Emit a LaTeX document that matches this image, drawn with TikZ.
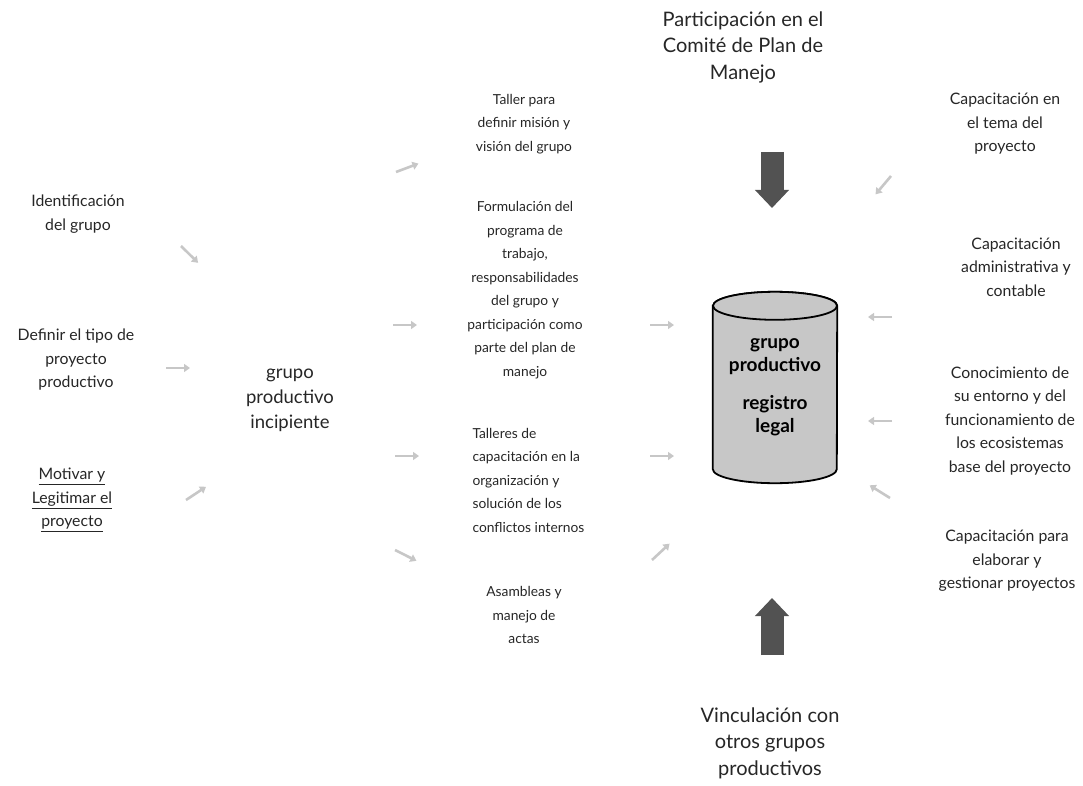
\documentclass[tikz,border=0pt]{standalone}
\usepackage{fontspec}
\setmainfont{Lato}
\usetikzlibrary{arrows.meta,shapes,positioning,calc,backgrounds}

\begin{document}
\begin{tikzpicture}[x=1pt,y=-1pt,
	txt/.style={align=center,text=black!85,font=\fontsize{13.8}{23.5}\selectfont},
	lado/.style={align=center,text=black!85,font=\fontsize{15.8}{23.5}\selectfont},
	grande/.style={align=center,text=black!85,font=\fontsize{20}{26.5}\selectfont},
	flecha/.style={draw=black!22,line width=2.6pt,-{Triangle[width=8pt,length=6pt]}},
	grueso/.style={draw=black!68,line width=23pt,-{Triangle[width=33pt,length=18pt]}},
	cuerpo/.style={draw=black,line width=1.8pt,fill=black!22}]
		\useasboundingbox (0,0) rectangle (1083,786);

		\node[grande] (particip) at (743,47) {Participación en el\\Comité de Plan de\\Manejo};
		\node[grande] (vincul) at (770,743) {Vinculación con\\otros grupos\\productivos};
		\node[grande,font=\fontsize{18.5}{25}\selectfont] (incip) at (290,400) {grupo\\productivo\\incipiente};

		\node[lado] (ident) at (78,214) {Identificación\\del grupo};
		\node[lado] (definir) at (76,360) {Definir el tipo de\\proyecto\\productivo};
		\node[lado] (motivar) at (72,500) {\underline{Motivar y}\\\underline{Legitimar el}\\\underline{proyecto}};

		\node[txt] (taller) at (524,124) {Taller para\\definir misión y\\visión del grupo};
		\node[txt] (formul) at (525,290) {Formulación del\\programa de\\trabajo,\\responsabilidades\\del grupo y\\participación como\\parte del plan de\\manejo};
		\node[txt,align=left,anchor=west] (talleres) at (469,480) {Talleres de\\capacitación en la\\organización y\\solución de los\\conflictos internos};
		\node[txt] (asamb) at (524,615) {Asambleas y\\manejo de\\actas};

		\node[lado] (captema) at (1005,124) {Capacitación en\\el tema del\\proyecto};
		\node[lado] (capadmin) at (1016,267) {Capacitación\\administrativa y\\contable};
		\node[lado] (conoc) at (1010,421) {Conocimiento de\\su entorno y del\\funcionamiento de\\los ecosistemas\\base del proyecto};
		\node[lado] (capproy) at (1007,561) {Capacitación para\\elaborar y\\gestionar proyectos};

		\node[align=center,minimum width=124pt,minimum height=191pt,font=\fontsize{19}{23}\bfseries] (cil) at (775,387.5)
			{grupo\\productivo\\[15pt]registro\\legal};
		\begin{scope}[on background layer]
			\draw[cuerpo] ($(cil.north west)+(0,14)$) -- ($(cil.south west)+(0,-14)$)
				arc[start angle=180,end angle=0,x radius=62,y radius=14] -- ($(cil.north east)+(0,14)$)
				arc[start angle=0,end angle=-180,x radius=62,y radius=14] -- cycle;
			\draw[cuerpo] ($(cil.north)+(0,14)$) ellipse[x radius=62,y radius=14];
		\end{scope}

		\coordinate (b1) at (772,152);
		\coordinate (b2) at (772,208);
		\coordinate (b3) at (772,655);
		\coordinate (b4) at (772,598);
		\draw[grueso] (b1) -- (b2);
		\draw[grueso] (b3) -- (b4);

		\coordinate (f1) at (181,246);
		\coordinate (f2) at (166,368);
		\coordinate (f3) at (186,500);
		\coordinate (f4) at (396,172);
		\coordinate (f5) at (393,325);
		\coordinate (f6) at (395,456);
		\coordinate (f7) at (395,550);
		\coordinate (f8) at (650,325);
		\coordinate (f9) at (650,456);
		\coordinate (f10) at (652,560);
		\coordinate (f11) at (891,176);
		\coordinate (f12) at (892,317);
		\coordinate (f13) at (892,421);
		\coordinate (f14) at (890,498);

		\draw[flecha] (f1) -- ($(f1)!24pt!(incip.east)$);
		\draw[flecha] (f2) -- ($(f2)!24pt!(incip.west |- f2)$);
		\draw[flecha] (f3) -- ($(f3)!24pt!(incip.east)$);
		\draw[flecha] (f4) -- ($(f4)!24pt!(taller)$);
		\draw[flecha] (f5) -- ($(f5)!24pt!(formul.west |- f5)$);
		\draw[flecha] (f6) -- ($(f6)!24pt!(talleres.west |- f6)$);
		\draw[flecha] (f7) -- ($(f7)!24pt!(asamb)$);
		\draw[flecha] (f8) -- ($(f8)!24pt!(cil.west |- f8)$);
		\draw[flecha] (f9) -- ($(f9)!24pt!(cil.west |- f9)$);
		\draw[flecha] (f10) -- ($(f10)!24pt!(cil.east)$);
		\draw[flecha] (f11) -- ($(f11)!24pt!(cil.west)$);
		\draw[flecha] (f12) -- ($(f12)!24pt!(cil.east |- f12)$);
		\draw[flecha] (f13) -- ($(f13)!24pt!(cil.east |- f13)$);
		\draw[flecha] (f14) -- ($(f14)!24pt!(cil.west)$);
	\end{tikzpicture}
\end{document}
